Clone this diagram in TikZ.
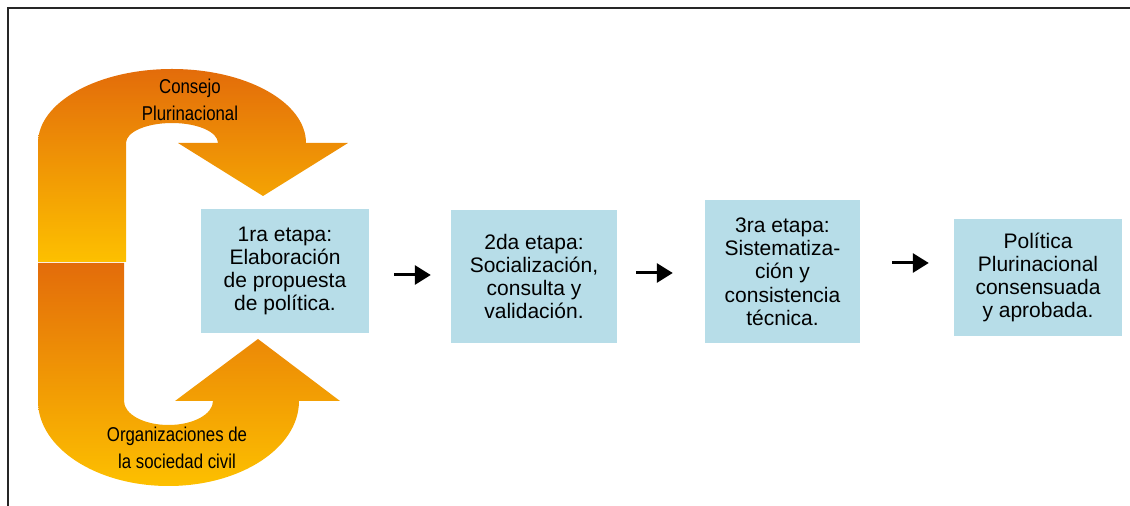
\documentclass[tikz,border=0pt]{standalone}
\usepackage{fontspec}
\setmainfont{Liberation Sans}
\newfontfamily\narrowfont[FakeStretch=0.84]{Liberation Sans}
\usetikzlibrary{arrows.meta}

\definecolor{darkor}{RGB}{227,108,10}
\definecolor{goldor}{RGB}{253,192,0}
\definecolor{paleblue}{RGB}{183,221,232}

\begin{document}
\begin{tikzpicture}[x=1pt, y=1pt,
                    stage/.style={fill=paleblue, align=center, inner sep=0pt,
                                  font=\fontsize{21}{23.3}\selectfont},
                    turn/.style={top color=darkor, bottom color=goldor},
                    lbl/.style={align=center, font=\narrowfont\fontsize{20}{27}\selectfont},
                    flow/.style={line width=3pt, -{Triangle[length=16pt,width=19pt]}}]
\useasboundingbox (0,0) rectangle (1130,506);

% frame
\draw[line width=2pt, black!85] (8,0) -- (8,498) -- (1130,498);

% upper turning arrow
\shade[turn] (38,244) -- (38,363)
  arc[start angle=180, end angle=0, x radius=134, y radius=74]
  -- (348,363) -- (263,310) -- (178,363) -- (218,363)
  arc[start angle=0, end angle=180, x radius=46, y radius=20]
  -- (126,244) -- cycle;

% lower turning arrow
\shade[turn] (38,243) -- (38,105)
  arc[start angle=180, end angle=360, x radius=130.5, y radius=85]
  -- (340,105) -- (258,167) -- (175,105) -- (213,105)
  arc[start angle=0, end angle=-180, x radius=44.5, y radius=24]
  -- (124,243) -- cycle;

\node[lbl] (cp) at (190,406) {Consejo\\Plurinacional};
\node[lbl] (osc) at (177,58) {Organizaciones de\\la sociedad civil};

% stages
\node[stage, minimum width=168pt, minimum height=124pt] (b1) at (285,235)
  {1ra etapa:\\Elaboración\\de propuesta\\de política.};
\node[stage, minimum width=166pt, minimum height=133pt] (b2) at (534,229.5)
  {2da etapa:\\Socialización,\\consulta y\\validación.};
\node[stage, minimum width=155pt, minimum height=143pt] (b3) at (782.5,234.5)
  {3ra etapa:\\Sistematiza-\\ción y\\consistencia\\técnica.};
\node[stage, minimum width=168pt, minimum height=117pt] (b4) at (1038,228.5)
  {Política\\Plurinacional\\consensuada\\y aprobada.};

\draw[flow] ([xshift=25pt,yshift=-4pt]b1.east) -- ([xshift=-20pt,yshift=1.5pt]b2.west);
\draw[flow] ([xshift=19pt,yshift=3.5pt]b2.east) -- ([xshift=-32pt,yshift=-1.5pt]b3.west);
\draw[flow] ([xshift=32pt,yshift=8.5pt]b3.east) -- ([xshift=-25pt,yshift=14.5pt]b4.west);
\end{tikzpicture}
\end{document}
